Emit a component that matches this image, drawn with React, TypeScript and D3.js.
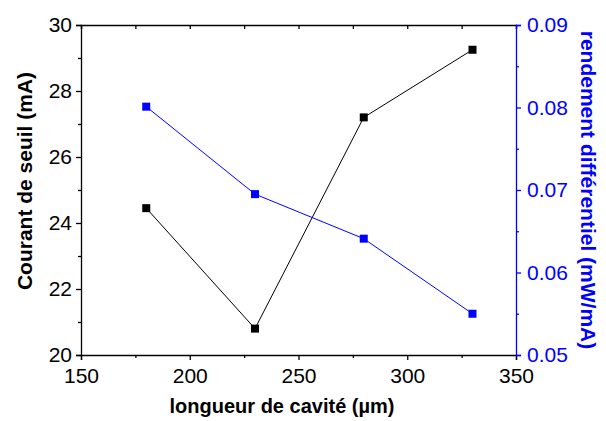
import { useEffect, useRef } from 'react'
import * as d3 from 'd3'

const lengths = [180, 230, 280, 330]
const thresholdCurrent = [24.45, 20.8, 27.2, 29.25]
const efficiency = [0.0801, 0.0695, 0.0641, 0.055]

const xTicks = [150, 200, 250, 300, 350]
const yLeftTicks = [20, 22, 24, 26, 28, 30]
const yRightTicks = [0.05, 0.06, 0.07, 0.08, 0.09]

const FONT = 'Liberation Sans, Arial, sans-serif'
const BLUE = '#0000ff'

export default function App() {
  const svgRef = useRef<SVGSVGElement>(null)

  useEffect(() => {
    if (!svgRef.current) return
    const svg = d3.select(svgRef.current)
    svg.selectAll('*').remove()

    const margin = { top: 25, right: 90, bottom: 66, left: 81 }
    const W = 606
    const H = 421
    const width = W - margin.left - margin.right
    const height = H - margin.top - margin.bottom

    const g = svg.append('g').attr('transform', `translate(${margin.left},${margin.top})`)

    const x = d3.scaleLinear().domain([150, 350]).range([0, width])
    const yL = d3.scaleLinear().domain([20, 30]).range([height, 0])
    const yR = d3.scaleLinear().domain([0.05, 0.09]).range([height, 0])

    const styleAxis = (sel: any, color: string) => {
      sel.selectAll('.domain').attr('stroke', color).attr('stroke-width', 1.3)
      sel.selectAll('.tick line').attr('stroke', color).attr('stroke-width', 1.3)
      sel.selectAll('text').attr('fill', color).style('font-family', FONT).style('font-size', '21px')
    }

    // minor ticks
    const minorX = d3.range(175, 350, 50)
    const minorL = d3.range(21, 30, 2)
    const minorR = [0.055, 0.065, 0.075, 0.085]

    // bottom axis
    const xa = g.append('g').attr('transform', `translate(0,${height})`)
      .call(d3.axisBottom(x).tickValues(xTicks).tickSize(5).tickFormat(d3.format('d') as any))
    styleAxis(xa, '#000')
    xa.selectAll('text').attr('y', 28).attr('dy', 0)
    g.append('g').attr('transform', `translate(0,${height})`)
      .call(d3.axisBottom(x).tickValues(minorX).tickSize(3).tickFormat(() => ''))
      .call(s => { s.select('.domain').remove(); s.selectAll('.tick line').attr('stroke', '#000').attr('stroke-width', 1.3) })

    // top axis, inward ticks
    g.append('g')
      .call(d3.axisTop(x).tickValues(d3.range(150, 351, 25)).tickSize(-4).tickFormat(() => ''))
      .call(s => { s.select('.domain').attr('stroke', '#000').attr('stroke-width', 1.3); s.selectAll('.tick line').attr('stroke', '#000').attr('stroke-width', 1.3) })

    // left axis
    const la = g.append('g')
      .call(d3.axisLeft(yL).tickValues(yLeftTicks).tickSize(5).tickPadding(4).tickFormat(d3.format('d') as any))
    styleAxis(la, '#000')
    g.append('g')
      .call(d3.axisLeft(yL).tickValues(minorL).tickSize(3).tickFormat(() => ''))
      .call(s => { s.select('.domain').remove(); s.selectAll('.tick line').attr('stroke', '#000').attr('stroke-width', 1.3) })

    // right axis
    const ra = g.append('g').attr('transform', `translate(${width},0)`)
      .call(d3.axisRight(yR).tickValues(yRightTicks).tickSize(5).tickPadding(6).tickFormat(d3.format('.2f') as any))
    styleAxis(ra, BLUE)
    g.append('g').attr('transform', `translate(${width},0)`)
      .call(d3.axisRight(yR).tickValues(minorR).tickSize(3).tickFormat(() => ''))
      .call(s => { s.select('.domain').remove(); s.selectAll('.tick line').attr('stroke', BLUE).attr('stroke-width', 1.3) })

    // black series
    const pts1 = lengths.map((l, i) => [x(l), yL(thresholdCurrent[i])] as [number, number])
    g.append('path').attr('d', d3.line()(pts1)).attr('fill', 'none').attr('stroke', '#000').attr('stroke-width', 1)
    g.selectAll('.sq1').data(pts1).enter().append('rect')
      .attr('x', d => d[0] - 4).attr('y', d => d[1] - 4).attr('width', 8).attr('height', 8).attr('fill', '#000')

    // blue series
    const pts2 = lengths.map((l, i) => [x(l), yR(efficiency[i])] as [number, number])
    g.append('path').attr('d', d3.line()(pts2)).attr('fill', 'none').attr('stroke', BLUE).attr('stroke-width', 1)
    g.selectAll('.sq2').data(pts2).enter().append('rect')
      .attr('x', d => d[0] - 4).attr('y', d => d[1] - 4).attr('width', 8).attr('height', 8).attr('fill', BLUE)

    // titles
    svg.append('text')
      .attr('x', 282).attr('y', 413)
      .attr('text-anchor', 'middle').style('font-family', FONT).style('font-size', '20px').style('font-weight', 'bold')
      .text('longueur de cavité (µm)')

    svg.append('text')
      .attr('transform', `translate(32,181) rotate(-90)`)
      .attr('text-anchor', 'middle').style('font-family', FONT).style('font-size', '21px').style('font-weight', 'bold')
      .text('Courant de seuil (mA)')

    svg.append('text')
      .attr('transform', `translate(581,190) rotate(90)`)
      .attr('text-anchor', 'middle').attr('fill', BLUE).style('font-family', FONT).style('font-size', '21px').style('font-weight', 'bold')
      .text('rendement différentiel (mW/mA)')
  }, [])

  return (
    <svg ref={svgRef} width={606} height={421}
      style={{ position: 'absolute', left: 0, top: 0, background: '#fff' }} />
  )
}
